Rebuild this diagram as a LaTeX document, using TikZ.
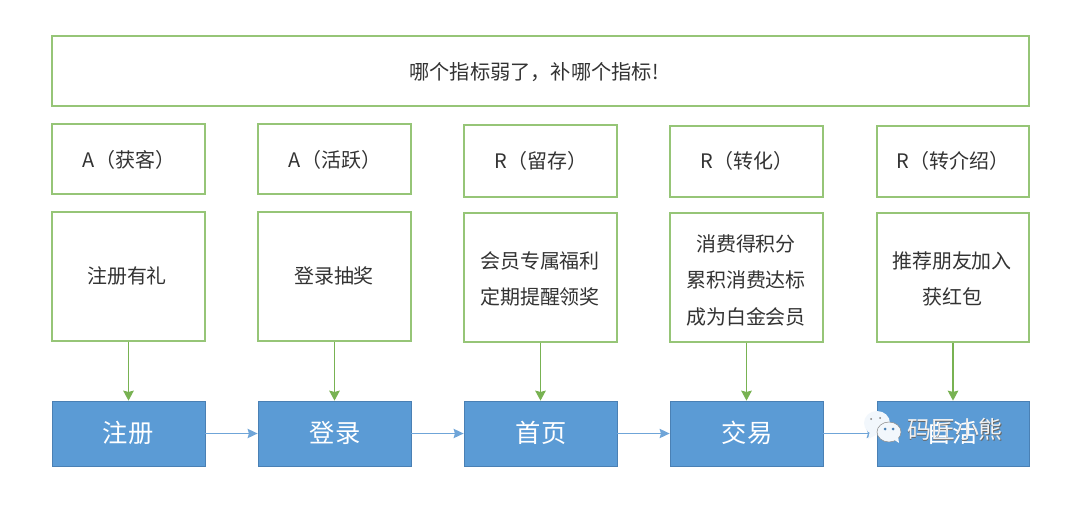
\documentclass[tikz,border=0pt]{standalone}
\usepackage{fontspec}
\setmainfont{Noto Sans CJK SC}
\usetikzlibrary{arrows.meta}
\definecolor{gline}{HTML}{96C577}
\definecolor{garrow}{HTML}{78B252}
\definecolor{bfill}{HTML}{5B9BD5}
\definecolor{bline}{HTML}{4A80B4}
\definecolor{harrow}{HTML}{6FA5D8}
\definecolor{ink}{HTML}{333333}
\tikzset{
  x=0.0264cm, y=-0.0264cm,
  gbox/.style={draw=gline, line width=0.8pt, fill=white, inner sep=0pt},
  bbox/.style={draw=bline, line width=0.6pt, fill=bfill, inner sep=0pt},
  headtext/.style={text=ink, font=\fontsize{15.2}{18}\selectfont},
  labeltext/.style={text=ink, font=\fontsize{15}{18}\selectfont},
  bodytext/.style={text=ink, align=center, font=\fontsize{15}{27.4}\selectfont},
  steptext/.style={text=white, font=\fontsize{19}{22}\selectfont},
  down/.style={draw=garrow, line width=0.9pt, -{Stealth[length=7.5pt,width=8pt,inset=1pt]}},
  across/.style={draw=harrow, line width=1pt, -{Stealth[length=7.5pt,width=7pt,inset=1pt]}},
}
% a box given by its corner pixels: style, name, left, top, right, bottom
\newcommand{\pixbox}[6]{%
  \node[#1, minimum width=#5*0.0264cm-#3*0.0264cm, minimum height=#6*0.0264cm-#4*0.0264cm]
    (#2) at ({(#3+#5)/2},{(#4+#6)/2}) {};}
\begin{document}
\begin{tikzpicture}
\useasboundingbox (0,0) rectangle (1077,517);
\fill[white] (0,0) rectangle (1077,517);
% headline
\pixbox{gbox}{top}{52}{36}{1029}{106}
\node[headtext] (toptext) at (534,72) {哪个指标弱了，补哪个指标!};
% stage labels
\pixbox{gbox}{la}{52}{124}{205}{194}
\pixbox{gbox}{lb}{258}{124}{411}{194}
\pixbox{gbox}{lc}{464}{125}{617}{197}
\pixbox{gbox}{ld}{670}{126}{823}{197}
\pixbox{gbox}{le}{877}{126}{1029}{197}
\node[labeltext] (tla) at (129,160) {A（获客）};
\node[labeltext] (tlb) at (335,160) {A（活跃）};
\node[labeltext] (tlc) at (541,161) {R（留存）};
\node[labeltext] (tld) at (747,161) {R（转化）};
\node[labeltext] (tle) at (953,161) {R（转介绍）};
% tactics
\pixbox{gbox}{ma}{52}{212}{205}{341}
\pixbox{gbox}{mb}{258}{212}{411}{341}
\pixbox{gbox}{mc}{464}{213}{617}{342}
\pixbox{gbox}{md}{670}{213}{823}{342}
\pixbox{gbox}{me}{877}{213}{1029}{342}
\node[bodytext] (tma) at (127,276) {注册有礼};
\node[bodytext] (tmb) at (334,276) {登录抽奖};
\node[bodytext] (tmc) at (540,279) {会员专属福利\\定期提醒领奖};
\node[bodytext] (tmd) at (746,280) {消费得积分\\累积消费达标\\成为白金会员};
\node[bodytext] (tme) at (952,279) {推荐朋友加入\\获红包};
% funnel steps
\pixbox{bbox}{ba}{52}{401}{205}{466}
\pixbox{bbox}{bb}{258}{401}{411}{466}
\pixbox{bbox}{bc}{464}{401}{617}{466}
\pixbox{bbox}{bd}{670}{401}{823}{466}
\pixbox{bbox}{be}{877}{401}{1029}{466}
\node[steptext] (sa) at (128,433) {注册};
\node[steptext] (sb) at (335,433) {登录};
\node[steptext] (sc) at (541,433) {首页};
\node[steptext] (sd) at (747,433) {交易};
\node[steptext] (se) at (952,433) {自活};
% connectors
\foreach \u/\v in {ma/ba,mb/bb,mc/bc,md/bd,me/be}
  \draw[down] (\u.south) -- (\v.north);
\foreach \u/\v in {ba/bb,bb/bc,bc/bd,bd/be}
  \draw[across] (\u.east) -- (\v.west);
% overlaid account mark: two speech bubbles and a name
\fill[white!92!bfill] (877,423) ellipse (13 and 12);
\fill[white!92!bfill] (870,431) -- (868,439) -- (878,434) -- cycle;
\fill[white!92!bfill, draw=black!45, line width=0.4pt] (889,432) ellipse (12 and 10);
\fill[white!92!bfill] (893,439) -- (899,443) -- (898,436) -- cycle;
\fill[bline] (885,429) circle (1.5) (893,429) circle (1.5);
\fill[gray] (871,419) circle (1) (880,418) circle (1);
\node[text=black!60, font=\fontsize{18}{20}\selectfont] (wmshade) at (955.8,429.8) {码匠小熊};
\node[text=white!95!black, font=\fontsize{18}{20}\selectfont] (wm) at (955,429) {码匠小熊};
\end{tikzpicture}
\end{document}
